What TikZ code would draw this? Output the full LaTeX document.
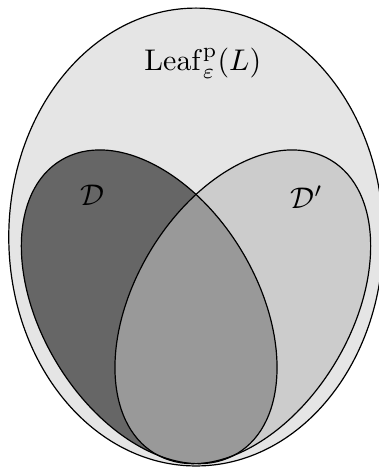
\documentclass[tikz,border=0pt]{standalone}
\usepackage{amsmath,amsfonts,amssymb}
\usepackage{tikz}
\newcommand{\leafD}{(-0.55,-0.82) ellipse [x radius=1.27, y radius=2.01, rotate=31]}
\newcommand{\leafDp}{(0.55,-0.82) ellipse [x radius=1.27, y radius=2.01, rotate=-31]}

\begin{document}
\begin{tikzpicture}
        \useasboundingbox (-2.303,-2.714) rectangle (2.150,2.785);
        % the whole leaf space
        \draw[fill=black!10] (0,0) ellipse (2.2 and 2.69);
        % the two domains
        \fill[color=black!20] \leafDp;
        \fill[color=black!60] \leafD;
        \begin{scope}
            \clip \leafD;
            \fill[color=black!40] \leafDp;
        \end{scope}
        \draw \leafD; \draw \leafDp;
        \node (leaf) at (0.08,2.04) {$\mathrm{Leaf}^{\mathrm{p}}_{\varepsilon}(L)$};
        \node (D) at (-1.22,0.49) {$\mathcal{D}$};
        \node (Dp) at (1.3,0.47) {$\mathcal{D}'$};
    \end{tikzpicture}
\end{document}
